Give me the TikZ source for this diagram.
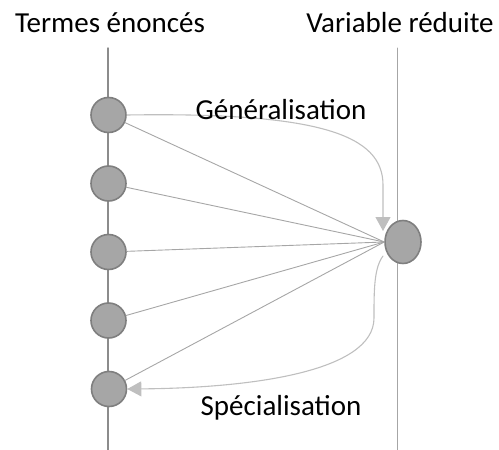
\documentclass[tikz,border=0pt]{standalone}
\usepackage{fontspec}
\setmainfont{Carlito}
\usetikzlibrary{shapes.geometric,arrows.meta}

\definecolor{nodefill}{HTML}{A6A6A6}
\definecolor{nodeedge}{HTML}{7F7F7F}
\definecolor{linkgray}{HTML}{A6A6A6}
\definecolor{curvegray}{HTML}{BFBFBF}

\begin{document}
\begin{tikzpicture}[
    x=1pt,
    y=-1pt,
    line join=round,
    line cap=round,
    >={Triangle[length=14pt,width=15pt]},
    terme/.style={circle,draw=nodeedge,fill=nodefill,line width=1.6pt,minimum size=35pt,inner sep=0pt},
    reduite/.style={ellipse,draw=nodeedge,fill=nodefill,line width=1.6pt,minimum width=36pt,minimum height=43pt,inner sep=0pt},
    lien/.style={draw=linkgray,line width=0.9pt},
    fleche/.style={draw=curvegray,line width=1.1pt,->},
    titre/.style={anchor=base,font=\fontsize{29}{34}\selectfont}
]
\useasboundingbox (0,0) rectangle (499,450);

% axes verticaux
\coordinate (Lhaut) at (108,48);
\coordinate (Lbas) at (108,450);
\coordinate (Rhaut) at (397,48);
\coordinate (Rbas) at (397,450);
\draw[draw=nodeedge!90,line width=1.4pt] (Lhaut) -- (Lbas);
\draw[draw=linkgray,line width=1pt] (Rhaut) -- (Rbas);

\node[titre] (t1) at (110,32) {Termes énoncés};
\node[titre] (t2) at (400,32) {Variable réduite};

\node[terme] (T1) at (108.5,115) {};
\node[terme] (T2) at (108.5,183.5) {};
\node[terme] (T3) at (108.5,252) {};
\node[terme] (T4) at (108.5,320.5) {};
\node[terme] (T5) at (109,389) {};
\node[reduite] (V) at (403,242) {};

\draw[lien] (T1) -- (V.west);
\draw[lien] (T2) -- (V.west);
\draw[lien] (T3) -- (V.west);
\draw[lien] (T4) -- (V.west);
\draw[lien] (T5) -- (V.west);

\coordinate (G) at (383,231);
\coordinate (S) at (383,256);
\draw[fleche] (T1.east) .. controls (320,112) and (383,135) .. (383,185) -- (G);
\draw[fleche] (S) .. controls (374,268) and (374,290) .. (374,318)
    .. controls (374,372) and (250,388) .. (T5.east);

\node[titre] (gen) at (281,119) {Généralisation};
\node[titre] (spe) at (281,415) {Spécialisation};

\end{tikzpicture}
\end{document}
